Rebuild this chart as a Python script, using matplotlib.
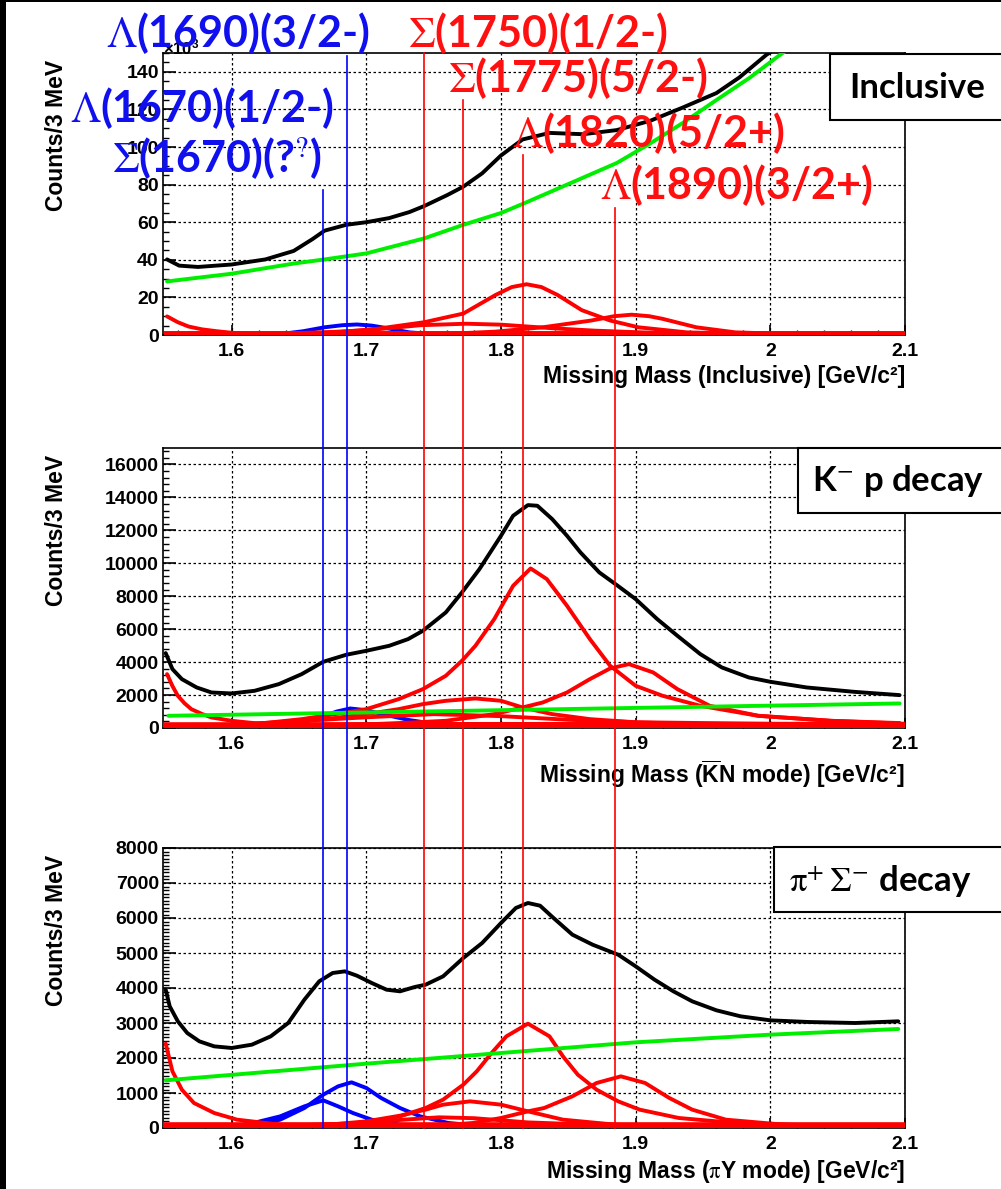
import matplotlib.pyplot as plt
from matplotlib.patches import Rectangle
from matplotlib.lines import Line2D
from matplotlib.ticker import MultipleLocator, FuncFormatter

plt.rcParams['mathtext.fontset'] = 'custom'
plt.rcParams['mathtext.rm'] = 'Liberation Sans:bold'
plt.rcParams['mathtext.it'] = 'Liberation Sans:bold'
plt.rcParams['mathtext.bf'] = 'Liberation Sans:bold'

# ---------------- panel 1 : inclusive (x10^3 counts) ----------------
inc_tot_m = [1.552, 1.561, 1.575, 1.60, 1.625, 1.646, 1.660, 1.669, 1.685, 1.70, 1.717, 1.732,
             1.743, 1.76, 1.772, 1.786, 1.80, 1.816, 1.836, 1.861, 1.886, 1.911, 1.935, 1.96,
             1.977, 1.997, 2.02]
inc_tot_v = [40.2, 36.9, 36.2, 37.5, 40.2, 44.7, 51.0, 55.5, 58.6, 60.0, 62.2, 65.4,
             68.6, 74.4, 78.9, 86.0, 95.5, 104.0, 107.5, 106.8, 109.0, 114.0, 121.0, 128.7,
             137.0, 149.0, 160.0]
inc_bg_m = [1.552, 1.60, 1.646, 1.669, 1.70, 1.743, 1.772, 1.80, 1.817, 1.86, 1.886, 1.911,
            1.935, 1.96, 1.985, 2.009, 2.02]
inc_bg_v = [28.5, 32.6, 38.0, 40.2, 43.4, 51.4, 58.6, 64.9, 70.0, 83.4, 91.5, 102.0,
            112.8, 125.0, 137.0, 150.0, 155.0]
inc_l1820_m = [1.65, 1.68, 1.707, 1.743, 1.772, 1.796, 1.808, 1.819, 1.830, 1.842, 1.86, 1.881,
               1.902, 1.938, 1.98, 2.04, 2.1]
inc_l1820_v = [0.8, 1.6, 3.2, 6.8, 11.4, 21.3, 25.5, 27.0, 25.5, 21.3, 13.2, 7.7,
               4.1, 1.4, 0.6, 0.3, 0.2]
inc_l1890_m = [1.72, 1.76, 1.796, 1.831, 1.867, 1.884, 1.897, 1.91, 1.92, 1.945, 1.974, 2.02,
               2.1]
inc_l1890_v = [0.3, 0.6, 1.8, 4.1, 7.7, 10.0, 10.8, 10.0, 8.6, 4.1, 1.4, 0.4, 0.1]
inc_s1775_m = [1.60, 1.64, 1.67, 1.70, 1.74, 1.774, 1.80, 1.84, 1.87, 1.92, 1.98, 2.05]
inc_s1775_v = [0.3, 0.8, 1.5, 2.5, 5.2, 6.0, 5.5, 3.5, 2.3, 1.0, 0.4, 0.2]
inc_tail_m = [1.552, 1.56, 1.568, 1.578, 1.589, 1.60, 1.618, 1.64]
inc_tail_v = [9.9, 6.8, 4.5, 3.0, 2.0, 1.2, 0.5, 0.3]
inc_l1690_m = [1.62, 1.636, 1.653, 1.669, 1.682, 1.693, 1.704, 1.714, 1.732, 1.753, 1.78]
inc_l1690_v = [0.2, 0.5, 2.0, 4.1, 5.2, 5.6, 5.0, 3.8, 1.4, 0.3, 0.1]

# ---------------- panel 2 : K- p decay ----------------
kp_tot_m = [1.551, 1.556, 1.563, 1.574, 1.585, 1.60, 1.617, 1.635, 1.652, 1.668, 1.685, 1.70,
            1.717, 1.731, 1.742, 1.759, 1.771, 1.784, 1.80, 1.809, 1.82, 1.827, 1.838, 1.849,
            1.859, 1.873, 1.886, 1.90, 1.916, 1.931, 1.948, 1.964, 1.984, 2.0, 2.027, 2.062,
            2.096]
kp_tot_v = [4547, 3575, 2967, 2461, 2157, 2097, 2259, 2664, 3271, 4020, 4445, 4688,
            4992, 5397, 5903, 7016, 8231, 9648, 11672, 12887, 13534, 13494, 12684, 11672,
            10660, 9445, 8676, 7826, 6612, 5599, 4486, 3676, 3069, 2806, 2461, 2198,
            1996]
kp_bg_m = [1.553, 2.096]
kp_bg_v = [741, 1490]
kp_l1820_m = [1.617, 1.652, 1.685, 1.70, 1.724, 1.742, 1.759, 1.771, 1.781, 1.795, 1.809,
              1.822, 1.834, 1.849, 1.866, 1.881, 1.90, 1.92, 1.948, 1.991, 2.045, 2.096]
kp_l1820_v = [235, 538, 943, 1146, 1753, 2360, 3170, 4081, 4992, 6611, 8636,
              9688, 9041, 7421, 5397, 3778, 2563, 1955, 1348, 741, 437, 275]
kp_l1890_m = [1.65, 1.70, 1.73, 1.759, 1.795, 1.816, 1.831, 1.849, 1.866, 1.881, 1.895, 1.913,
              1.931, 1.955, 1.991, 2.045, 2.096]
kp_l1890_v = [120, 220, 320, 437, 842, 1247, 1550, 2157, 2968, 3616, 3879, 3373,
              2360, 1348, 741, 437, 300]
kp_s1775_m = [1.60, 1.64, 1.67, 1.70, 1.724, 1.742, 1.759, 1.781, 1.80, 1.816, 1.838, 1.866,
              1.902, 1.96, 2.05]
kp_s1775_v = [200, 350, 538, 842, 1146, 1450, 1652, 1794, 1652, 1247, 842, 538,
              335, 220, 150]
kp_s1750_m = [1.60, 1.65, 1.70, 1.75, 1.80, 1.85, 1.90, 2.0, 2.1]
kp_s1750_v = [200, 420, 650, 840, 720, 500, 350, 250, 200]
kp_tail_m = [1.552, 1.556, 1.560, 1.565, 1.570, 1.578, 1.585, 1.60, 1.624, 1.65]
kp_tail_v = [3271, 2550, 1956, 1500, 1146, 850, 640, 437, 235, 180]
kp_l1690_m = [1.62, 1.652, 1.668, 1.678, 1.688, 1.70, 1.714, 1.732, 1.752, 1.78]
kp_l1690_v = [120, 340, 700, 1000, 1186, 1080, 800, 480, 240, 100]
kp_l1670_m = [1.60, 1.65, 1.70, 1.75, 1.80, 1.85, 1.90]
kp_l1670_v = [50, 100, 150, 160, 140, 80, 30]

# ---------------- panel 3 : pi+ Sigma- decay ----------------
ps_tot_m = [1.551, 1.554, 1.560, 1.567, 1.576, 1.587, 1.60, 1.615, 1.629, 1.642, 1.654, 1.665,
            1.675, 1.684, 1.693, 1.704, 1.715, 1.725, 1.736, 1.744, 1.757, 1.772, 1.786, 1.80,
            1.811, 1.820, 1.829, 1.839, 1.853, 1.868, 1.887, 1.90, 1.914, 1.928, 1.942, 1.96,
            1.978, 2.0, 2.028, 2.063, 2.095]
ps_tot_v = [3952, 3476, 3048, 2714, 2476, 2333, 2286, 2381, 2619, 3000, 3667, 4190,
            4429, 4476, 4352, 4143, 3952, 3905, 4029, 4095, 4333, 4857, 5286, 5857,
            6286, 6429, 6352, 6000, 5524, 5238, 4952, 4619, 4238, 3905, 3619, 3362,
            3190, 3076, 3029, 3000, 3048]
ps_bg_m = [1.551, 1.70, 1.80, 1.90, 2.0, 2.095]
ps_bg_v = [1362, 1838, 2143, 2448, 2667, 2829]
ps_l1820_m = [1.65, 1.70, 1.725, 1.744, 1.757, 1.772, 1.782, 1.793, 1.804, 1.820, 1.836, 1.846,
              1.857, 1.871, 1.887, 1.903, 1.932, 1.974, 2.046, 2.1]
ps_l1820_v = [60, 143, 333, 571, 810, 1238, 1619, 2143, 2619, 2981, 2619, 2048,
              1524, 1095, 762, 524, 286, 143, 48, 30]
ps_l1890_m = [1.70, 1.75, 1.779, 1.80, 1.820, 1.832, 1.853, 1.871, 1.889, 1.907, 1.925, 1.942,
              1.967, 2.01, 2.1]
ps_l1890_v = [30, 60, 143, 286, 476, 571, 905, 1286, 1476, 1286, 857, 524,
              238, 95, 30]
ps_s1775_m = [1.62, 1.672, 1.70, 1.725, 1.744, 1.757, 1.777, 1.80, 1.820, 1.846, 1.885, 1.95]
ps_s1775_v = [40, 95, 190, 352, 524, 667, 762, 667, 476, 238, 95, 30]
ps_s1750_m = [1.65, 1.70, 1.725, 1.754, 1.78, 1.82, 1.87, 1.95]
ps_s1750_v = [80, 143, 230, 305, 280, 160, 90, 40]
ps_tail_m = [1.551, 1.556, 1.563, 1.572, 1.587, 1.604, 1.636, 1.70]
ps_tail_v = [2410, 1619, 1095, 714, 429, 238, 95, 60]
ps_l1670_m = [1.60, 1.619, 1.636, 1.654, 1.668, 1.679, 1.690, 1.704, 1.725, 1.75]
ps_l1670_v = [40, 171, 333, 619, 790, 619, 429, 238, 95, 30]
ps_l1690_m = [1.60, 1.619, 1.636, 1.654, 1.668, 1.679, 1.689, 1.700, 1.711, 1.725, 1.740,
              1.761, 1.789, 1.82]
ps_l1690_v = [30, 95, 238, 571, 952, 1190, 1305, 1143, 857, 571, 333,
              143, 48, 20]

# resonance marker lines (mass, top of line in px) and labels
line_mass = [1.668, 1.686, 1.743, 1.772, 1.816, 1.885]
line_top = [190, 56, 53, 100, 155, 208]
line_col = ['#0000ff', '#0000ff', '#ff0000', '#ff0000', '#ff0000', '#ff0000']

labels = [r'$\Lambda$(1690)(3/2-)', r'$\Lambda$(1670)(1/2-)', r'$\Sigma$(1670)(?$^{?}$)',
          r'$\Sigma$(1750)(1/2-)', r'$\Sigma$(1775)(5/2-)', r'$\Lambda$(1820)(5/2+)',
          r'$\Lambda$(1890)(3/2+)']
label_xy = [(106, 33), (70, 108), (112, 158), (408, 33), (448, 78), (512, 133), (600, 185)]
label_col = ['#1010ee', '#1010ee', '#1010ee', '#ff1010', '#ff1010', '#ff1010', '#ff1010']

W, H = 1001, 1189
fig = plt.figure(figsize=(W / 100, H / 100), dpi=100)
fig.patch.set_facecolor('white')


def fx(x):
    return x / W


def fy(y):
    return 1 - y / H


L, R = 163, 905
frames = [(53, 335), (448, 728), (848, 1128)]
ylims = [150, 17000, 8000]
ymaj = [20, 2000, 1000]
ymin = [5, 400, 100]
xlabels = ['Missing Mass (Inclusive) [GeV/c²]',
           r'Missing Mass ($\overline{\mathrm{K}}$N mode) [GeV/c²]',
           r'Missing Mass ($\mathrm{\pi}$Y mode) [GeV/c²]']

axes = []
for i, (top, bot) in enumerate(frames):
    ax = fig.add_axes([fx(L), fy(bot), (R - L) / W, (bot - top) / H])
    ax.set_xlim(1.549, 2.1)
    ax.set_ylim(0, ylims[i])
    ax.xaxis.set_major_locator(MultipleLocator(0.1))
    ax.xaxis.set_minor_locator(MultipleLocator(0.02))
    ax.xaxis.set_major_formatter(FuncFormatter(lambda v, p: '%g' % round(v, 2)))
    ax.yaxis.set_major_locator(MultipleLocator(ymaj[i]))
    ax.yaxis.set_minor_locator(MultipleLocator(ymin[i]))
    ax.yaxis.set_major_formatter(FuncFormatter(lambda v, p: '%d' % v))
    ax.tick_params(axis='both', which='both', direction='in', top=False, right=False)
    ax.tick_params(axis='y', which='major', length=9, width=1.2, pad=3)
    ax.tick_params(axis='y', which='minor', length=4.5, width=1.0)
    ax.tick_params(axis='x', which='major', length=7, width=1.2, pad=6)
    ax.tick_params(axis='x', which='minor', length=3.5, width=1.0)
    for lab in ax.get_xticklabels() + ax.get_yticklabels():
        lab.set_fontfamily('Liberation Sans')
        lab.set_fontweight('bold')
        lab.set_fontsize(14)
    ax.grid(True, which='major', color='black', linestyle=(0, (2, 2)), lw=0.9)
    for s in ax.spines.values():
        s.set_linewidth(1.2)
    ax.set_xlabel(xlabels[i], loc='right', fontsize=16.5, fontweight='bold',
                  family='Liberation Sans', math_fontfamily='custom' if i == 1 else 'stix')
    ax.xaxis.set_label_coords(1.0, -30 / (bot - top))
    ax.set_ylabel('Counts/3 MeV', loc='top', fontsize=16.5, fontweight='bold',
                  family='Liberation Sans')
    ax.yaxis.set_label_coords(-95 / (R - L), 1 - 7 / (bot - top))
    axes.append(ax)

# panel 1 exponent (partly hidden under the labels, as in the original)
fig.text(fx(163), fy(47), r'$\times$10$^{3}$', fontsize=12, fontweight='bold',
         family='Liberation Sans', va='center', ha='left', zorder=1)

lw = 2.8
red, blue, green = '#ff0000', '#0000ff', '#00ee00'


def curve(ax, m, v, c, w=lw, z=3):
    ax.plot(m, v, color=c, lw=w, zorder=z, solid_joinstyle='round', solid_capstyle='round')


ax1, ax2, ax3 = axes
# inclusive
curve(ax1, inc_l1690_m, inc_l1690_v, blue, z=2)
for m, v in [(inc_l1820_m, inc_l1820_v), (inc_l1890_m, inc_l1890_v),
             (inc_s1775_m, inc_s1775_v), (inc_tail_m, inc_tail_v)]:
    curve(ax1, m, v, red)
ax1.plot([1.552, 2.098], [0.6, 0.6], color=red, lw=5, zorder=3)
curve(ax1, inc_bg_m, inc_bg_v, green, z=4)
curve(ax1, inc_tot_m, inc_tot_v, 'black', z=5)

# K- p
curve(ax2, kp_l1690_m, kp_l1690_v, blue, z=2)
curve(ax2, kp_l1670_m, kp_l1670_v, blue, w=4, z=2)
for m, v in [(kp_l1820_m, kp_l1820_v), (kp_l1890_m, kp_l1890_v), (kp_s1775_m, kp_s1775_v),
             (kp_s1750_m, kp_s1750_v), (kp_tail_m, kp_tail_v)]:
    curve(ax2, m, v, red)
ax2.plot([1.552, 2.098], [120, 150], color=red, lw=5.5, zorder=3)
curve(ax2, kp_bg_m, kp_bg_v, green, z=4)
curve(ax2, kp_tot_m, kp_tot_v, 'black', z=5)

# pi+ Sigma-
curve(ax3, ps_l1670_m, ps_l1670_v, blue, z=2)
curve(ax3, ps_l1690_m, ps_l1690_v, blue, z=2)
for m, v in [(ps_l1820_m, ps_l1820_v), (ps_l1890_m, ps_l1890_v), (ps_s1775_m, ps_s1775_v),
             (ps_s1750_m, ps_s1750_v), (ps_tail_m, ps_tail_v)]:
    curve(ax3, m, v, red)
ax3.plot([1.552, 2.098], [60, 60], color=red, lw=5.5, zorder=3)
curve(ax3, ps_bg_m, ps_bg_v, green, z=4)
curve(ax3, ps_tot_m, ps_tot_v, 'black', z=5)

# vertical resonance lines spanning all panels
inv = fig.transFigure.inverted()
for m, t, c in zip(line_mass, line_top, line_col):
    xf = inv.transform(ax1.transData.transform((m, 0)))[0]
    fig.add_artist(Line2D([xf, xf], [fy(t), fy(1128)], color=c, lw=1.2, zorder=10))

# resonance labels
for s, (x, y), c in zip(labels, label_xy, label_col):
    fig.text(fx(x), fy(y), s, color=c, fontsize=31, fontweight='bold', family='Lato',
             math_fontfamily='stix', ha='left', va='center', zorder=11)

# boxed panel titles
boxes = [((830, 54, 120), (917, 88), 'Inclusive'),
         ((798, 448, 513), (898, 481), r'K$^{-}$ p decay'),
         ((774, 847, 912), (880, 882), r'$\mathrm{\pi}^{+}\,\Sigma^{-}$ decay')]
for (x0, y0, y1), (cx, cy), s in boxes:
    fig.add_artist(Rectangle((fx(x0), fy(y1)), fx(W + 10) - fx(x0), (y1 - y0) / H,
                             transform=fig.transFigure, facecolor='white',
                             edgecolor='black', lw=1.5, zorder=12))
    fig.text(fx(cx), fy(cy), s, fontsize=25, fontweight='bold', family='Lato',
             math_fontfamily='stix', ha='center', va='center', zorder=13)

# black edge strips
fig.add_artist(Rectangle((0, 0), fx(6), 1, transform=fig.transFigure,
                         facecolor='black', edgecolor='none', zorder=20))
fig.add_artist(Rectangle((0, fy(2)), 1, 2 / H, transform=fig.transFigure,
                         facecolor='black', edgecolor='none', zorder=20))

fig.savefig('out.png', dpi=100)
